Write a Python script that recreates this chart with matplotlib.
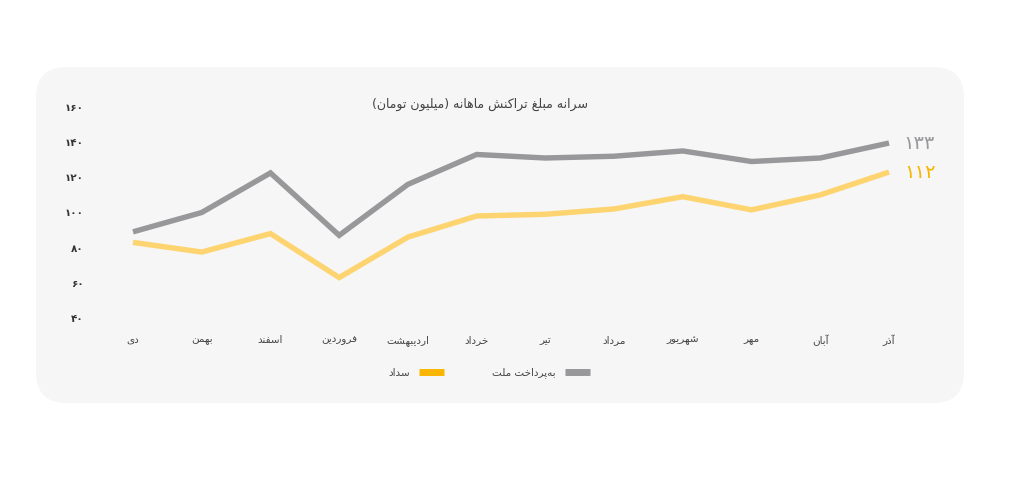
import matplotlib
matplotlib.use("Agg")
import matplotlib.pyplot as plt
from matplotlib.patches import FancyBboxPatch
from matplotlib.lines import Line2D
from matplotlib.ticker import FuncFormatter

TITLE = "سرانه مبلغ تراکنش ماهانه (میلیون تومان)"
MONTHS = ["دی", "بهمن", "اسفند", "فروردین", "اردیبهشت", "خرداد",
          "تیر", "مرداد", "شهریور", "مهر", "آبان", "آذر"]
MELLAT = [89, 100, 122.5, 87, 116, 133, 131, 132, 135, 129, 131, 139.5]
SADAD  = [83, 77.5, 88, 63, 86, 98, 99, 102, 109, 101.5, 110, 123]
SERIES_NAMES = ["به\u200cپرداخت ملت", "سداد"]
END_LABELS   = ["۱۳۳", "۱۱۲"]
YTICKS = [40, 60, 80, 100, 120, 140, 160]

GRAY     = "#98989b"
YELLOW   = "#fdd46f"
YELLOW_D = "#f9b600"
TXT      = "#444444"
PANEL    = "#f6f6f6"

# contextual forms: isolated, final, initial, medial
FORMS = {
    "ا": (0xFE8D, 0xFE8E), "آ": (0xFE81, 0xFE82),
    "د": (0xFEA9, 0xFEAA), "ذ": (0xFEAB, 0xFEAC),
    "ر": (0xFEAD, 0xFEAE), "ز": (0xFEAF, 0xFEB0),
    "ژ": (0xFB8A, 0xFB8B), "و": (0xFEED, 0xFEEE),
    "ب": (0xFE8F, 0xFE90, 0xFE91, 0xFE92),
    "پ": (0xFB56, 0xFB57, 0xFB58, 0xFB59),
    "ت": (0xFE95, 0xFE96, 0xFE97, 0xFE98),
    "ث": (0xFE99, 0xFE9A, 0xFE9B, 0xFE9C),
    "ج": (0xFE9D, 0xFE9E, 0xFE9F, 0xFEA0),
    "چ": (0xFB7A, 0xFB7B, 0xFB7C, 0xFB7D),
    "ح": (0xFEA1, 0xFEA2, 0xFEA3, 0xFEA4),
    "خ": (0xFEA5, 0xFEA6, 0xFEA7, 0xFEA8),
    "س": (0xFEB1, 0xFEB2, 0xFEB3, 0xFEB4),
    "ش": (0xFEB5, 0xFEB6, 0xFEB7, 0xFEB8),
    "ع": (0xFEC9, 0xFECA, 0xFECB, 0xFECC),
    "غ": (0xFECD, 0xFECE, 0xFECF, 0xFED0),
    "ف": (0xFED1, 0xFED2, 0xFED3, 0xFED4),
    "ق": (0xFED5, 0xFED6, 0xFED7, 0xFED8),
    "ک": (0xFB8E, 0xFB8F, 0xFB90, 0xFB91),
    "گ": (0xFB92, 0xFB93, 0xFB94, 0xFB95),
    "ل": (0xFEDD, 0xFEDE, 0xFEDF, 0xFEE0),
    "م": (0xFEE1, 0xFEE2, 0xFEE3, 0xFEE4),
    "ن": (0xFEE5, 0xFEE6, 0xFEE7, 0xFEE8),
    "ه": (0xFEE9, 0xFEEA, 0xFEEB, 0xFEEC),
    "ی": (0xFBFC, 0xFBFD, 0xFBFE, 0xFBFF),
}
MIRROR = {"(": ")", ")": "("}


def fa(s):
    """Shape Persian text and put it in visual (left-to-right) order."""
    out = []
    for i, ch in enumerate(s):
        f = FORMS.get(ch)
        if f is None:
            if ch != "\u200c":
                out.append(MIRROR.get(ch, ch))
            continue
        prev = s[i - 1] if i > 0 else ""
        nxt  = s[i + 1] if i + 1 < len(s) else ""
        join_prev = prev in FORMS and len(FORMS[prev]) == 4
        join_next = len(f) == 4 and nxt in FORMS
        if join_prev and join_next:
            out.append(chr(f[3]))
        elif join_prev:
            out.append(chr(f[1]))
        elif join_next:
            out.append(chr(f[2]))
        else:
            out.append(chr(f[0]))
    return "".join(reversed(out))


def fa_num(v, _pos=None):
    return str(int(v)).translate(str.maketrans("0123456789", "۰۱۲۳۴۵۶۷۸۹"))


plt.rcParams["font.family"] = ["DejaVu Sans"]

W, H = 1024, 483
fig = plt.figure(figsize=(W / 100, H / 100), dpi=100)
fig.patch.set_facecolor("white")

# rounded panel behind the chart
panel = FancyBboxPatch((36 / W, 1 - 403 / H), (964 - 36) / W, (403 - 67) / H,
                       boxstyle="round,pad=0,rounding_size=0.03",
                       transform=fig.transFigure, facecolor=PANEL,
                       edgecolor="none", mutation_aspect=W / H, zorder=-10)
fig.patches.append(panel)

left, right, top, bottom = 100, 920, 107, 318
ax = fig.add_axes([left / W, 1 - bottom / H, (right - left) / W, (bottom - top) / H])
ax.set_facecolor("none")
ax.set_zorder(2)

x = list(range(len(MONTHS)))
step = (889 - 133) / 11
ax.set_xlim(-(133 - left) / step, 11 + (right - 889) / step)
ax.set_ylim(40, 160)

ax.plot(x, MELLAT, color=GRAY, lw=3.9, solid_joinstyle="miter",
        solid_capstyle="butt", clip_on=False)
ax.plot(x, SADAD, color=YELLOW, lw=3.9, solid_joinstyle="miter",
        solid_capstyle="butt", clip_on=False)

ax.annotate(END_LABELS[0], (x[-1], MELLAT[-1]), xytext=(10, 0),
            textcoords="offset points", color=GRAY, fontsize=14,
            va="center", ha="left")
ax.annotate(END_LABELS[1], (x[-1], SADAD[-1]), xytext=(11, 0),
            textcoords="offset points", color=YELLOW_D, fontsize=14,
            va="center", ha="left")

ax.set_yticks(YTICKS)
ax.yaxis.set_major_formatter(FuncFormatter(fa_num))
ax.set_xticks(x)
ax.set_xticklabels([fa(m) for m in MONTHS])
ax.tick_params(axis="both", length=0, colors=TXT, labelsize=7.5)
ax.tick_params(axis="y", pad=12, labelcolor="#333333")
ax.tick_params(axis="x", pad=12)
for lbl in ax.get_yticklabels():
    lbl.set_fontweight("bold")
for s in ax.spines.values():
    s.set_visible(False)

fig.text(480 / W, 1 - 104 / H, fa(TITLE), ha="center", va="center",
         fontsize=9, color=TXT)

handles = [Line2D([], [], color=YELLOW_D, lw=5, solid_capstyle="butt"),
           Line2D([], [], color=GRAY, lw=5, solid_capstyle="butt")]
fig.legend(handles, [fa(SERIES_NAMES[1]), fa(SERIES_NAMES[0])],
           loc="center", bbox_to_anchor=(489 / W, 1 - 373 / H), ncol=2,
           markerfirst=False, frameon=False, fontsize=7.5,
           labelcolor=TXT, handlelength=2.4, handletextpad=0.9,
           columnspacing=4.6)

fig.savefig("out.png", dpi=100, facecolor="white")
